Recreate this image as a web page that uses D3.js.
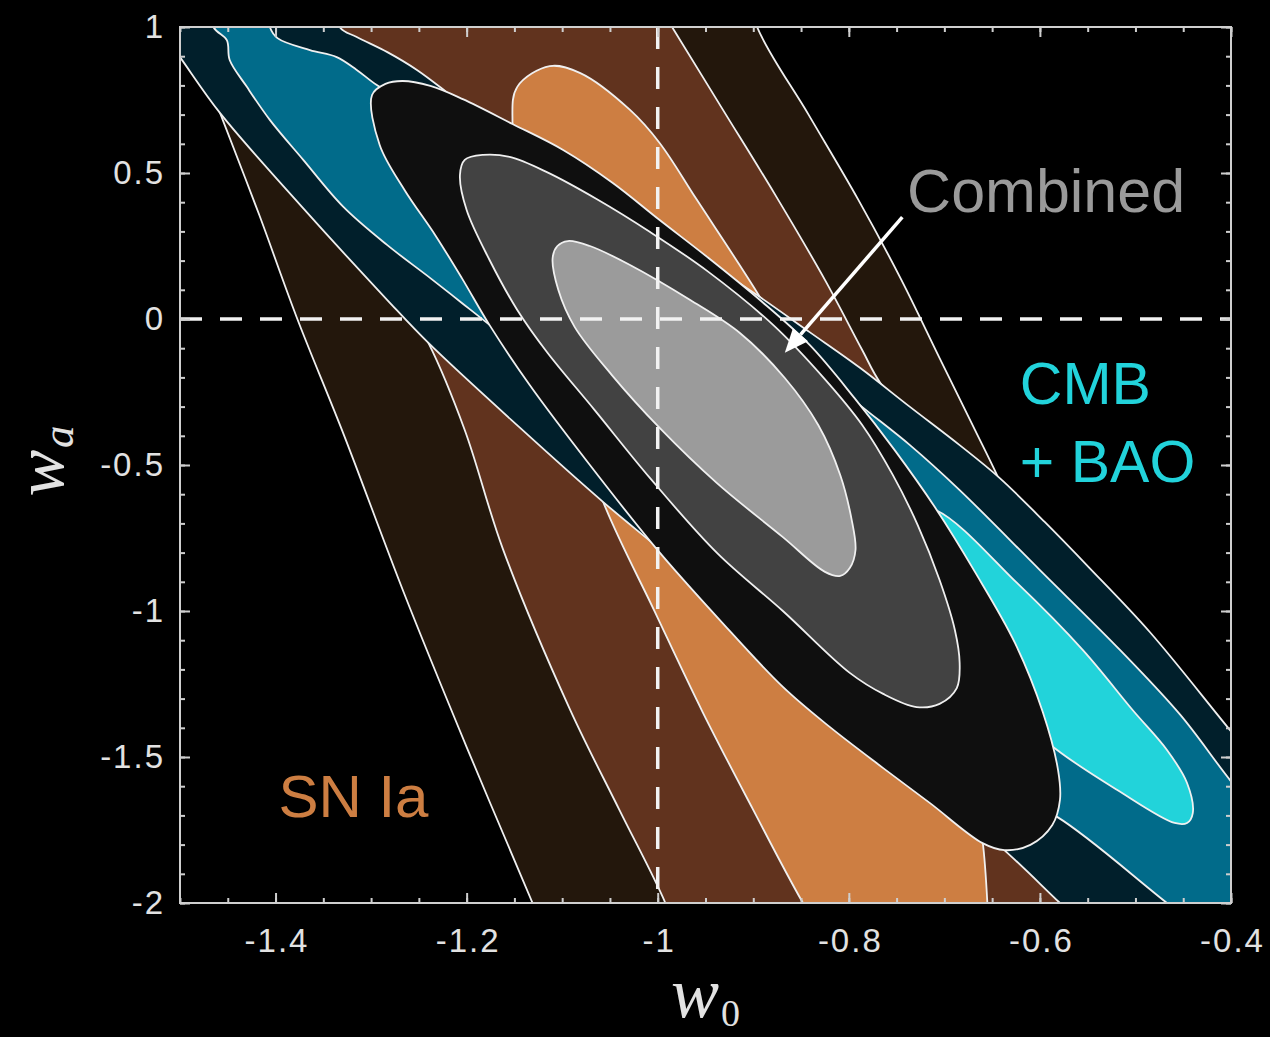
<!DOCTYPE html>
<html>
<head>
<meta charset="utf-8">
<script src="https://cdn.jsdelivr.net/npm/d3@7"></script>
<style>
  html, body { margin: 0; padding: 0; background: #000; }
  svg { display: block; }
</style>
</head>
<body>
<svg id="chart" width="1270" height="1037"></svg>
<script>
// Confidence contours in the (w0, wa) plane, listed as [w0, wa] vertices.
// Points beyond the axes only close the shapes; the plot area clips them.

// SN Ia: outer, middle and inner levels
const snOuter = [
  [-1.492, 1.20], [-1.479, 0.887], [-1.458, 0.705], [-1.417, 0.356], [-1.378, 0.007],
  [-1.328, -0.401], [-1.266, -0.935], [-1.200, -1.466], [-1.131, -2.000], [-1.115, -2.127],
  [-1.075, -2.450], [-0.495, -2.450], [-0.511, -2.000], [-0.527, -1.716], [-0.558, -1.305],
  [-0.600, -0.860], [-0.645, -0.534], [-0.668, -0.380], [-0.705, -0.134], [-0.745, 0.134],
  [-0.790, 0.408], [-0.842, 0.699], [-0.896, 1.000], [-0.912, 1.20]
];
const snMid = [
  [-1.395, 1.20], [-1.380, 1.000], [-1.343, 0.579], [-1.291, 0.202], [-1.240, -0.082],
  [-1.202, -0.380], [-1.162, -0.788], [-1.092, -1.336], [-1.040, -1.682], [-0.992, -2.000],
  [-0.966, -2.229], [-0.947, -2.450], [-0.545, -2.450], [-0.563, -2.000], [-0.610, -1.373],
  [-0.642, -0.962], [-0.705, -0.459], [-0.767, -0.219], [-0.786, -0.106], [-0.825, 0.134],
  [-0.877, 0.425], [-0.933, 0.723], [-0.985, 1.000], [-1.023, 1.20]
];
const snInner = [
  [-1.113, 0.866], [-1.081, 0.842], [-1.029, 0.716], [-0.998, 0.603], [-0.959, 0.408],
  [-0.893, 0.075], [-0.830, -0.277], [-0.747, -0.825], [-0.694, -1.305], [-0.668, -1.647],
  [-0.660, -1.788], [-0.655, -2.000], [-0.651, -2.450], [-0.765, -2.450], [-0.848, -2.000],
  [-0.901, -1.675], [-0.953, -1.346], [-1.003, -1.003], [-1.057, -0.627], [-1.092, -0.277],
  [-1.134, 0.236], [-1.152, 0.671], [-1.147, 0.795]
];

// CMB + BAO: outer, middle and inner levels
const cmbOuter = [
  [-1.346, 1.20], [-1.333, 1.000], [-1.315, 0.966], [-1.283, 0.914], [-1.252, 0.853],
  [-1.221, 0.777], [-1.165, 0.630], [-1.102, 0.534], [-1.050, 0.418], [-0.998, 0.298],
  [-0.948, 0.195], [-0.893, 0.075], [-0.841, -0.045], [-0.788, -0.168], [-0.736, -0.301],
  [-0.684, -0.432], [-0.642, -0.545], [-0.595, -0.695], [-0.548, -0.853], [-0.485, -1.072],
  [-0.401, -1.408], [-0.328, -1.699], [-0.280, -1.950], [-0.300, -2.450], [-0.453, -2.450],
  [-0.516, -2.195], [-0.579, -2.000], [-0.642, -1.805], [-0.747, -1.527], [-0.851, -1.253],
  [-0.935, -0.962], [-1.003, -0.774], [-1.057, -0.627], [-1.144, -0.373], [-1.240, -0.082],
  [-1.283, 0.065], [-1.374, 0.390], [-1.458, 0.705], [-1.500, 0.897], [-1.542, 1.092],
  [-1.560, 1.20]
];
const cmbMid = [
  [-1.476, 1.20], [-1.465, 1.000], [-1.451, 0.955], [-1.448, 0.887], [-1.430, 0.795],
  [-1.406, 0.682], [-1.371, 0.545], [-1.329, 0.384], [-1.283, 0.253], [-1.238, 0.140],
  [-1.205, 0.055], [-1.172, -0.031], [-1.113, -0.192], [-1.060, -0.449], [-0.851, -1.099],
  [-0.642, -1.613], [-0.582, -1.705], [-0.467, -2.000], [-0.391, -2.195], [-0.280, -2.300],
  [-0.300, -2.000], [-0.349, -1.784], [-0.401, -1.579], [-0.453, -1.356], [-0.516, -1.134],
  [-0.600, -0.860], [-0.684, -0.586], [-0.736, -0.432], [-0.791, -0.288], [-0.851, -0.123],
  [-0.956, 0.134], [-1.060, 0.373], [-1.165, 0.579], [-1.249, 0.716], [-1.294, 0.801],
  [-1.315, 0.853], [-1.336, 0.897], [-1.364, 0.921], [-1.398, 0.962], [-1.406, 1.000],
  [-1.412, 1.20]
];
const cmbInner = [
  [-0.709, -0.654], [-0.624, -0.904], [-0.555, -1.134], [-0.503, -1.339], [-0.467, -1.476],
  [-0.446, -1.589], [-0.440, -1.692], [-0.446, -1.726], [-0.459, -1.726], [-0.519, -1.613],
  [-0.582, -1.476], [-0.642, -1.305], [-0.705, -0.997], [-0.747, -0.774], [-0.752, -0.637]
];

// Combined: outer, middle and inner levels
const combOuter = [
  [-1.299, 0.767], [-1.285, 0.805], [-1.267, 0.815], [-1.238, 0.798], [-1.204, 0.753],
  [-1.152, 0.668], [-1.099, 0.579], [-1.047, 0.466], [-0.998, 0.339], [-0.948, 0.212],
  [-0.893, 0.065], [-0.841, -0.089], [-0.794, -0.271], [-0.752, -0.449], [-0.710, -0.644],
  [-0.668, -0.866], [-0.626, -1.110], [-0.597, -1.346], [-0.581, -1.545], [-0.579, -1.647],
  [-0.587, -1.733], [-0.610, -1.801], [-0.637, -1.819], [-0.660, -1.795], [-0.715, -1.658],
  [-0.764, -1.538], [-0.820, -1.397], [-0.869, -1.260], [-0.935, -1.031], [-1.001, -0.788],
  [-1.071, -0.500], [-1.134, -0.226], [-1.176, -0.021], [-1.205, 0.140], [-1.233, 0.288],
  [-1.265, 0.442], [-1.291, 0.596]
];
const combMid = [
  [-1.202, 0.545], [-1.183, 0.562], [-1.155, 0.555], [-1.116, 0.503], [-1.064, 0.411],
  [-1.008, 0.298], [-0.948, 0.164], [-0.879, -0.021], [-0.827, -0.199], [-0.786, -0.363],
  [-0.754, -0.534], [-0.728, -0.705], [-0.705, -0.894], [-0.689, -1.065], [-0.684, -1.178],
  [-0.687, -1.264], [-0.705, -1.318], [-0.729, -1.329], [-0.764, -1.284], [-0.799, -1.212],
  [-0.869, -1.000], [-0.938, -0.801], [-1.008, -0.545], [-1.066, -0.312], [-1.116, -0.113],
  [-1.147, 0.031], [-1.176, 0.202], [-1.200, 0.373], [-1.207, 0.493]
];
const combInner = [
  [-1.110, 0.209], [-1.105, 0.250], [-1.094, 0.267], [-1.071, 0.250], [-1.029, 0.185],
  [-0.966, 0.065], [-0.914, -0.048], [-0.867, -0.202], [-0.832, -0.363], [-0.809, -0.534],
  [-0.797, -0.688], [-0.793, -0.791], [-0.799, -0.853], [-0.809, -0.880], [-0.825, -0.866],
  [-0.869, -0.747], [-0.938, -0.562], [-0.998, -0.373], [-1.048, -0.192], [-1.087, -0.027],
  [-1.104, 0.099]
];

// Axis ticks
const xTickValues = [-1.4, -1.2, -1, -0.8, -0.6, -0.4];
const yTickValues = [1, 0.5, 0, -0.5, -1, -1.5, -2];
const xMinorTicks = d3.range(0, 23).map(i => -1.5 + i * 0.05);
const yMinorTicks = d3.range(0, 31).map(i => -2 + i * 0.1);

// Reference lines (cosmological constant)
const refW0 = -1;
const refWa = 0;

const W = 1270, H = 1037;
const x = d3.scaleLinear().domain([-1.5, -0.4]).range([180, 1231]);
const y = d3.scaleLinear().domain([-2, 1]).range([903, 27]);

const svg = d3.select('#chart');
svg.append('rect').attr('width', W).attr('height', H).attr('fill', '#000');

svg.append('defs').append('clipPath').attr('id', 'plotClip')
  .append('rect')
  .attr('x', x(-1.5)).attr('y', y(1))
  .attr('width', x(-0.4) - x(-1.5)).attr('height', y(-2) - y(1));

const plot = svg.append('g').attr('clip-path', 'url(#plotClip)');

const contourLine = d3.line()
  .x(d => x(d[0]))
  .y(d => y(d[1]))
  .curve(d3.curveCatmullRomClosed.alpha(0.5));

const layers = [
  { pts: snOuter,  fill: '#23170c' },
  { pts: snMid,    fill: '#61331e' },
  { pts: snInner,  fill: '#cd7e42' },
  { pts: cmbOuter, fill: '#011f2b' },
  { pts: cmbMid,   fill: '#016b8a' },
  { pts: cmbInner, fill: '#22d3da' },
  { pts: combOuter, fill: '#0f0f0f' },
  { pts: combMid,   fill: '#424242' },
  { pts: combInner, fill: '#9b9b9b' }
];

plot.selectAll('path.contour')
  .data(layers)
  .join('path')
  .attr('class', 'contour')
  .attr('d', d => contourLine(d.pts))
  .attr('fill', d => d.fill)
  .attr('stroke', '#f0f0f0')
  .attr('stroke-width', 1.8)
  .attr('stroke-linejoin', 'round');

// dashed w0 = -1 and wa = 0 lines
plot.append('line')
  .attr('x1', x(refW0)).attr('x2', x(refW0))
  .attr('y1', y(1)).attr('y2', y(-2))
  .attr('stroke', '#f2f2f2').attr('stroke-width', 3.5)
  .attr('stroke-dasharray', '22 18');
plot.append('line')
  .attr('x1', x(-1.5)).attr('x2', x(-0.4))
  .attr('y1', y(refWa)).attr('y2', y(refWa))
  .attr('stroke', '#f2f2f2').attr('stroke-width', 3.5)
  .attr('stroke-dasharray', '22 18');

// axes: ticks on all four sides, pointing inward
const axisColor = '#cfcfcf';
const labelColor = '#e2e2e2';
const fontSans = "'Liberation Sans', Arial, Helvetica, sans-serif";
const fmt = d => String(d);

function styleAxis(g) {
  g.select('.domain').remove();
  g.selectAll('.tick line').attr('stroke', axisColor).attr('stroke-width', 2);
  g.selectAll('.tick text')
    .attr('fill', labelColor)
    .style('font-family', fontSans)
    .style('font-size', '33px')
    .style('letter-spacing', '2px');
}

svg.append('g').attr('transform', `translate(0,${y(-2)})`)
  .call(d3.axisBottom(x).tickValues(xMinorTicks).tickSize(-5).tickSizeOuter(0).tickFormat(''))
  .call(styleAxis);
svg.append('g').attr('transform', `translate(0,${y(-2)})`)
  .call(d3.axisBottom(x).tickValues(xTickValues).tickSize(-10).tickSizeOuter(0).tickPadding(26).tickFormat(fmt))
  .call(styleAxis)
  .call(g => g.selectAll('.tick text').attr('dx', 1));
svg.append('g').attr('transform', `translate(0,${y(1)})`)
  .call(d3.axisTop(x).tickValues(xMinorTicks).tickSize(-5).tickSizeOuter(0).tickFormat(''))
  .call(styleAxis);
svg.append('g').attr('transform', `translate(0,${y(1)})`)
  .call(d3.axisTop(x).tickValues(xTickValues).tickSize(-10).tickSizeOuter(0).tickFormat(''))
  .call(styleAxis);
svg.append('g').attr('transform', `translate(${x(-1.5)},0)`)
  .call(d3.axisLeft(y).tickValues(yMinorTicks).tickSize(-5).tickSizeOuter(0).tickFormat(''))
  .call(styleAxis);
svg.append('g').attr('transform', `translate(${x(-1.5)},0)`)
  .call(d3.axisLeft(y).tickValues(yTickValues).tickSize(-10).tickSizeOuter(0).tickPadding(15).tickFormat(fmt))
  .call(styleAxis);
svg.append('g').attr('transform', `translate(${x(-0.4)},0)`)
  .call(d3.axisRight(y).tickValues(yMinorTicks).tickSize(-5).tickSizeOuter(0).tickFormat(''))
  .call(styleAxis);
svg.append('g').attr('transform', `translate(${x(-0.4)},0)`)
  .call(d3.axisRight(y).tickValues(yTickValues).tickSize(-10).tickSizeOuter(0).tickFormat(''))
  .call(styleAxis);

// frame
svg.append('rect')
  .attr('x', x(-1.5)).attr('y', y(1))
  .attr('width', x(-0.4) - x(-1.5)).attr('height', y(-2) - y(1))
  .attr('fill', 'none').attr('stroke', axisColor).attr('stroke-width', 2);

// axis titles
const fontSerif = "'Liberation Serif', 'DejaVu Serif', 'Times New Roman', serif";
const xTitle = svg.append('text')
  .attr('x', (x(-1.5) + x(-0.4)) / 2)
  .attr('y', 1017)
  .attr('text-anchor', 'middle')
  .attr('fill', labelColor)
  .style('font-family', fontSerif);
xTitle.append('tspan').text('w').style('font-style', 'italic').style('font-size', '72px');
xTitle.append('tspan').text('0').attr('dx', 2).attr('dy', 9).style('font-size', '38px');

const yTitle = svg.append('text')
  .attr('transform', `translate(63,${(y(1) + y(-2)) / 2 - 4}) rotate(-90)`)
  .attr('text-anchor', 'middle')
  .attr('fill', labelColor)
  .style('font-family', fontSerif);
yTitle.append('tspan').text('w').style('font-style', 'italic').style('font-size', '70px');
yTitle.append('tspan').text('a').attr('dx', 2).attr('dy', 10).style('font-style', 'italic').style('font-size', '45px');

// annotations
const annotations = svg.append('g').style('font-family', fontSans);

annotations.append('text')
  .attr('x', x(-0.739)).attr('y', y(0.366))
  .attr('fill', '#9a9a9a')
  .style('font-size', '61px')
  .text('Combined');

annotations.append('text')
  .attr('x', x(-0.621)).attr('y', y(-0.291))
  .attr('fill', '#22d3db')
  .style('font-size', '59px')
  .text('CMB');
annotations.append('text')
  .attr('x', x(-0.621)).attr('y', y(-0.558))
  .attr('fill', '#22d3db')
  .style('font-size', '59px')
  .text('+ BAO');

annotations.append('text')
  .attr('x', x(-1.397)).attr('y', y(-1.705))
  .attr('fill', '#cd7e42')
  .style('font-size', '60px')
  .text('SN Ia');

// arrow pointing at the combined contours
const arrowFrom = [-0.744, 0.349];
const arrowTo = [-0.867, -0.116];
const ax0 = x(arrowFrom[0]), ay0 = y(arrowFrom[1]);
const ax1 = x(arrowTo[0]), ay1 = y(arrowTo[1]);
const ang = Math.atan2(ay1 - ay0, ax1 - ax0);
const headLen = 24, headHalf = 10;
const bx = ax1 - headLen * Math.cos(ang), by = ay1 - headLen * Math.sin(ang);
annotations.append('line')
  .attr('x1', ax0).attr('y1', ay0).attr('x2', bx).attr('y2', by)
  .attr('stroke', '#ffffff').attr('stroke-width', 3.5);
annotations.append('path')
  .attr('d', `M${ax1},${ay1} L${bx - headHalf * Math.sin(ang)},${by + headHalf * Math.cos(ang)} L${bx + headHalf * Math.sin(ang)},${by - headHalf * Math.cos(ang)} Z`)
  .attr('fill', '#ffffff');
</script>
</body>
</html>
